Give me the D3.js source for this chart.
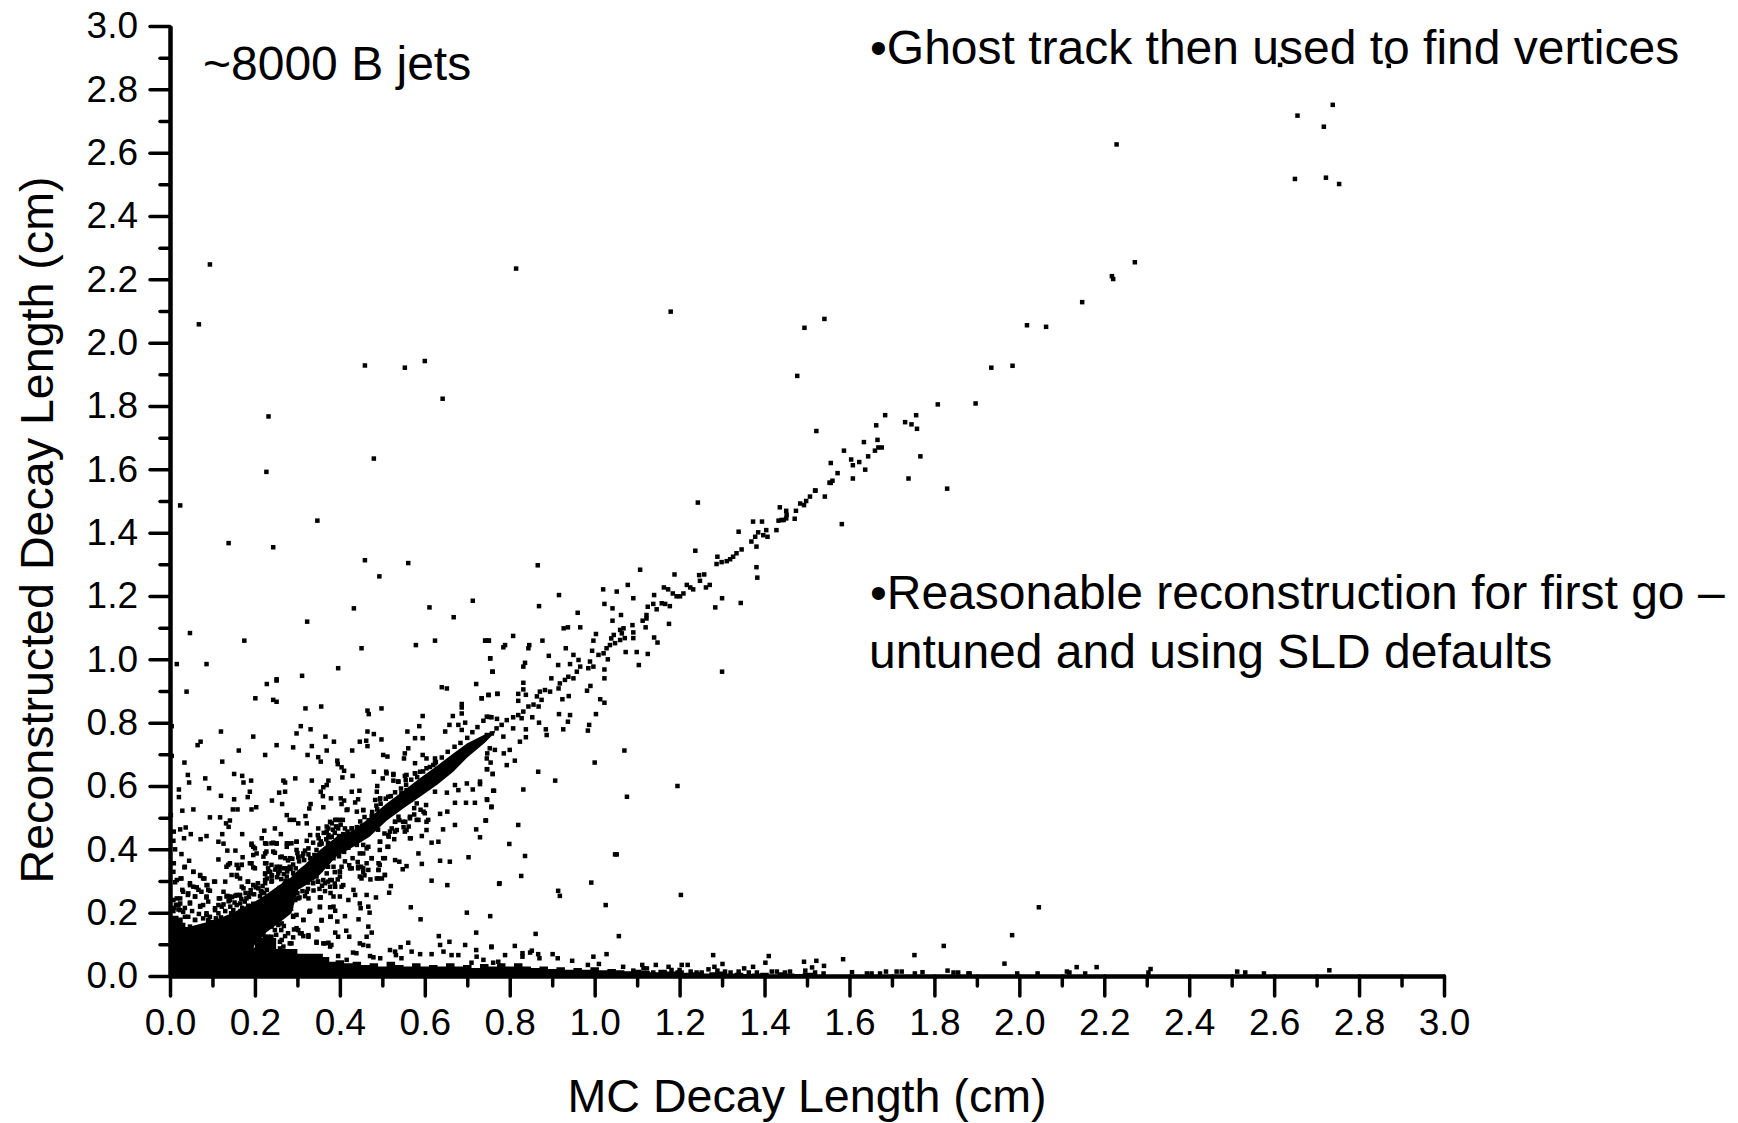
<!DOCTYPE html>
<html>
<head>
<meta charset="utf-8">
<title>Decay length</title>
<script src="https://cdn.jsdelivr.net/npm/d3@7"></script>
<style>
  html, body { margin: 0; background: #fff; }
  svg { display: block; font-family: "Liberation Sans", Arial, sans-serif; fill: #000; }
</style>
</head>
<body>
<div id="chart"></div>
<script>
// all values in cm, [mc, reconstructed]
const farScatter = [[.094,2.247],[.815,2.234],[.068,2.058],[1.179,2.098],[.459,1.928],[.553,1.921],[.600,1.942],[.642,1.823],[.232,1.767],[.480,1.634],[.227,1.592],[.024,1.486],[.347,1.438],[.138,1.367],[.243,1.354],[.459,1.313],[.561,1.304],[.493,1.262],[.713,1.185],[.433,1.161],[.611,1.164],[.668,1.133],[.323,1.119],[.047,1.083],[.175,1.059],[.451,1.035],[.579,1.045],[.624,1.059],[.743,1.059],[.751,1.059],[1.243,1.495],[1.300,.961],[.251,.937],[1.477,1.895],[1.494,2.047],[1.541,2.075],[1.522,1.721],[1.582,1.427]];

const tailPoints = [[2.614,2.877],[2.870,2.874],[2.738,2.751],[2.655,2.717],[2.717,2.682],[2.229,2.626],[2.649,2.517],[2.722,2.521],[2.753,2.501],[2.272,2.254],[2.218,2.210],[2.221,2.201],[2.148,2.128],[2.018,2.055],[2.063,2.050],[1.934,1.921],[1.984,1.927],[1.808,1.805],[1.897,1.808],[1.684,1.771],[1.663,1.739],[1.757,1.771],[1.731,1.749],[1.746,1.742],[1.759,1.728],[1.666,1.693],[1.634,1.686],[1.587,1.659],[1.676,1.669],[1.668,1.669],[1.660,1.659],[1.644,1.641],[1.604,1.631],[1.623,1.623],[1.608,1.613],[1.637,1.599],[1.556,1.620],[1.572,1.588],[1.560,1.564],[1.556,1.557],[1.608,1.571],[1.520,1.533],[1.507,1.514],[1.498,1.500],[1.493,1.487],[1.484,1.492],[1.474,1.469],[1.542,1.514],[1.471,1.444],[1.451,1.469],[1.451,1.445],[1.440,1.440],[1.436,1.480],[1.767,1.641],[1.739,1.571],[1.830,1.539],[1.519,1.533],[1.553,1.558],[1.452,1.456],[1.433,1.438],[1.445,1.440]];

const diagonalChain = [[.734,.745],[.746,.761],[.758,.766],[.769,.782],[.781,.793],[.793,.808],[.808,.817],[.820,.824],[.832,.835],[.828,.814],[.844,.851],[.856,.857],[.868,.851],[.875,.872],[.864,.883],[.871,.898],[.883,.903],[.895,.898],[.915,.908],[.918,.924],[.930,.935],[.938,.945],[.950,.940],[.958,.961],[.966,.977],[.962,.998],[.950,1.014],[.985,.972],[.997,.977],[.989,.993],[1.009,1.014],[1.021,1.019],[1.028,1.035],[1.036,1.045],[1.048,1.051],[1.060,1.061],[1.071,1.067],[1.064,1.082],[1.068,1.098],[1.060,1.093],[1.045,1.077],[1.039,1.066],[1.091,1.067],[1.091,1.085],[1.089,1.108],[1.113,1.122],[1.122,1.129],[1.122,1.140],[1.146,1.158],[1.158,1.177],[1.166,1.175],[1.177,1.168],[1.138,1.175],[1.125,1.166],[1.163,1.227],[1.173,1.221],[1.184,1.208],[1.193,1.199],[1.201,1.199],[1.209,1.208],[1.217,1.235],[1.225,1.227],[1.232,1.221],[1.248,1.248],[1.262,1.227],[1.271,1.235],[1.246,1.266],[1.258,1.268],[1.188,1.268],[1.107,1.283],[1.237,1.343],[1.289,1.324],[1.287,1.301],[1.299,1.307],[1.311,1.310],[1.319,1.316],[1.326,1.324],[1.334,1.335],[1.346,1.347],[1.381,1.356],[1.369,1.372],[1.378,1.387],[1.385,1.401],[1.397,1.392],[1.407,1.387],[1.339,1.403],[1.373,1.435],[1.394,1.435],[1.404,1.408],[1.428,1.408],[1.381,1.291],[1.383,1.258],[1.300,1.193],[1.284,1.164],[1.344,1.178]];

const midScatter = [[.866,1.297],[.916,1.203],[.869,1.168],[.960,1.147],[1.020,1.221],[1.052,1.214],[1.078,1.235],[1.091,1.193],[1.023,1.175],[1.042,1.161],[1.062,1.140],[1.042,1.122],[1.140,1.203],[1.120,1.101],[1.175,1.112],[1.140,1.069],[1.148,1.053],[1.125,1.017],[1.099,1.023],[1.073,1.023],[1.104,.982],[1.031,1.000],[1.023,.968],[1.023,.940],[1.003,1.080],[.997,1.059],[.994,1.027],[.966,1.101],[.937,1.101],[.927,1.098],[.932,1.035],[.892,1.011],[.877,1.059],[.844,1.035],[.846,1.045],[.808,1.074],[.789,1.045],[.785,1.038],[.742,1.059],[.750,1.059],[.754,1.003],[.759,.961],[.836,.989],[.832,.977],[.914,.982],[.942,.985],[.832,.926],[.832,.905],[.820,.891],[.838,.888],[.771,.891],[.750,.888],[.734,.877],[.820,.869],[.898,.940],[.982,.901],[.990,.916],[.939,.884],[.924,.874],[1.013,.874],[1.023,.863],[1.003,.827],[.942,.824],[.916,.827],[.853,.817],[.869,.800],[.937,.803],[.885,.779],[.926,.779],[.887,.761],[.987,.793],[.984,.775],[.838,.779],[.838,.754],[.824,.740],[.800,.714],[.785,.756],[.808,.782],[.786,.703],[.765,.714],[.753,.719],[.747,.703],[.746,.687],[.812,.680],[.793,.666],[.755,.674],[.746,.653],[.760,.638],[.867,.645],[.907,.617],[1.000,.674],[1.070,.712],[.832,.589],[.761,.585],[.746,.558],[.757,.533],[.743,.491],[.820,.477],[1.076,.566],[1.195,.600],[.730,.614],[.799,.417],[.836,.379],[1.048,.384],[1.052,.384],[.827,.316],[.776,.293],[.992,.295],[.914,.269],[.918,.253],[1.026,.224],[1.203,.256],[.754,.189],[1.057,.126],[.861,.133],[2.046,.217],[1.983,.129]];

const upperCloud = [[.016,.985],[.086,.985],[.396,.972],[.754,1.003],[.760,.961],[.311,.948],[.228,.922],[.251,.933],[.721,.922],[.640,.912],[.652,.908],[.039,.898],[.201,.877],[.243,.872],[.251,.866],[.734,.877],[.750,.887],[.771,.891],[.687,.859],[.687,.848],[.319,.845],[.356,.851],[.498,.845],[.465,.838],[.468,.827],[.687,.829],[.595,.821],[.666,.821],[.746,.819],[.757,.817],[.695,.800],[.658,.793],[.587,.789],[.004,.789],[.679,.793],[.687,.777],[.308,.789],[.331,.779],[.298,.766],[.120,.772],[.465,.772],[.480,.764],[.559,.772],[.648,.772],[.196,.756],[.366,.756],[.577,.751],[.595,.751],[.498,.747],[.462,.743],[.447,.740],[.386,.740],[.072,.740],[.065,.729],[.251,.729],[.465,.726],[.290,.722],[.334,.726],[.162,.712],[.429,.712],[.369,.712],[.561,.719],[.553,.703],[.502,.698],[.512,.693],[.224,.698],[.324,.698],[.004,.695],[.349,.691],[.355,.677],[.551,.687],[.595,.698],[.604,.687],[.624,.687],[.123,.677],[.034,.674],[.394,.680],[.395,.669],[.577,.672],[.620,.666],[.404,.659],[.410,.648],[.480,.645],[.509,.645],[.526,.638],[.042,.635],[.151,.638],[.170,.632],[.083,.624],[.191,.617],[.173,.611],[.045,.611],[.267,.617],[.295,.624],[.334,.617],[.373,.617],[.406,.627],[.430,.632],[.501,.624],[.553,.632],[.555,.619],[.577,.640],[.526,.617],[.537,.614],[.092,.593],[.021,.589],[.188,.582],[.271,.611],[.271,.582],[.257,.579],[.369,.603],[.361,.596],[.355,.582],[.360,.568],[.488,.600],[.428,.582],[.446,.585],[.487,.582],[.120,.569],[.021,.565],[.183,.565],[.151,.558],[.240,.554],[.264,.543],[.379,.561],[.402,.561],[.404,.543],[.410,.554],[.436,.548],[.443,.558],[.494,.558],[.331,.543],[.328,.529],[.361,.533],[.203,.533],[.192,.526],[.148,.526],[.159,.526],[.029,.522],[.055,.526],[.418,.526],[.455,.524],[.002,.508],[.275,.508],[.319,.505],[.094,.501],[.118,.501],[.141,.491],[.132,.482],[.138,.471],[.282,.493],[.292,.493],[.302,.482],[.322,.482],[.349,.466],[.369,.472],[.381,.482],[.393,.493],[.407,.493],[.391,.472],[.247,.466],[.222,.459],[.037,.469],[.024,.463],[.009,.456],[.049,.448],[.033,.435],[.008,.427],[.072,.432],[.086,.442],[.123,.448],[.170,.448],[.261,.448],[.216,.435],[.330,.445],[.348,.445],[.369,.456],[.373,.445],[.428,.466],[.114,.424],[.126,.418],[.192,.418],[.227,.418],[.243,.421],[.251,.418],[.278,.418],[.298,.424],[.322,.427],[.337,.421],[.357,.418],[.196,.408],[.012,.400],[.135,.396],[.154,.396],[.204,.387],[.227,.393],[.275,.408],[.298,.398],[.345,.398],[.027,.385],[.171,.375],[.220,.377],[.247,.389],[.260,.375],[.271,.372],[.302,.375],[.314,.387],[.045,.364],[.114,.368],[.009,.356],[.141,.356],[.169,.351],[.188,.356],[.227,.356],[.133,.345],[.161,.340],[.196,.343],[.231,.340],[.251,.345],[.267,.340],[.282,.345],[.034,.343],[.008,.329],[.055,.329],[.071,.316],[.145,.319],[.158,.314],[.224,.303],[.239,.314],[.255,.324],[.275,.314],[.236,.329],[.025,.308],[.012,.296],[.081,.308],[.104,.298],[.130,.298],[.183,.298],[.224,.293],[.047,.287],[.063,.280],[.088,.287],[.169,.282],[.196,.287],[.208,.277],[.029,.272],[.074,.266],[.094,.269],[.042,.256],[.059,.251],[.086,.248],[.133,.251],[.153,.253],[.165,.256],[.188,.261],[.016,.245],[.115,.245],[.141,.240],[.180,.245],[.047,.232],[.024,.229],[.071,.221],[.078,.224],[.106,.214],[.122,.219],[.157,.224],[.031,.203],[.086,.198],[.094,.187],[.114,.198],[.043,.187],[.059,.177],[.031,.161],[.047,.156],[.090,.172]];

const lowerCloud = [[.775,.291],[.653,.287],[.616,.301],[.520,.284],[.516,.263],[.485,.248],[.703,.375],[.659,.361],[.636,.364],[.593,.354],[.585,.387],[.616,.421],[.632,.424],[.730,.438],[.721,.463],[.671,.477],[.744,.491],[.643,.463],[.593,.442],[.567,.435],[.553,.456],[.604,.461],[.636,.512],[.653,.519],[.600,.514],[.608,.493],[.565,.503],[.581,.493],[.549,.487],[.530,.487],[.518,.456],[.530,.456],[.671,.547],[.697,.547],[.718,.547],[.757,.535],[.747,.556],[.763,.585],[.713,.589],[.699,.608],[.730,.606],[.760,.638],[.747,.653],[.671,.603],[.679,.587],[.652,.579],[.624,.582],[.603,.540],[.581,.545],[.567,.556],[.494,.424],[.512,.408],[.494,.398],[.506,.372],[.530,.366],[.540,.361],[.557,.347],[.548,.337],[.494,.351],[.491,.335],[.506,.319],[.499,.308],[.487,.308],[.475,.372],[.463,.403],[.440,.414],[.455,.387],[.463,.356],[.443,.340],[.455,.329],[.467,.335],[.447,.314],[.424,.340],[.404,.345],[.385,.345],[.369,.324],[.381,.303],[.400,.314],[.361,.303],[.345,.314],[.337,.293],[.377,.282],[.408,.287],[.432,.272],[.463,.256],[.447,.229],[.449,.214],[.467,.219],[.470,.200],[.436,.256],[.420,.240],[.400,.251],[.385,.251],[.355,.248],[.353,.219],[.385,.219],[.389,.206],[.328,.203],[.412,.189],[.444,.179],[.378,.187],[.357,.175],[.394,.172],[.314,.177],[.298,.193],[.467,.156],[.475,.137],[.463,.124],[.422,.124],[.415,.143],[.396,.124],[.389,.137],[.347,.147],[.314,.126],[.326,.124],[.292,.147],[.302,.145],[.306,.135],[.271,.126],[.259,.108],[.235,.166],[.255,.161],[.220,.135],[.231,.124],[.247,.145],[.282,.103],[.267,.093],[.345,.105],[.361,.103],[.373,.105],[.380,.098],[.447,.103],[.455,.098],[.467,.095],[.431,.074],[.439,.072],[.471,.063],[.479,.059],[.518,.082],[.530,.077],[.543,.091],[.561,.105],[.532,.066],[.545,.056],[.569,.077],[.589,.069],[.616,.069],[.633,.126],[.636,.098],[.658,.108],[.695,.098],[.644,.077],[.663,.066],[.679,.066],[.721,.137],[.721,.082],[.722,.061],[.757,.093],[.699,.200],[.590,.179],[.567,.217],[.773,.045],[.761,.042],[.710,.042],[.738,.051],[.495,.056],[.396,.063],[.416,.051]];

const floorScatter = [[.757,.091],[.812,.095],[.789,.066],[.830,.072],[.830,.061],[.848,.074],[.852,.080],[.867,.069],[.870,.056],[.901,.069],[.913,.056],[.947,.048],[.997,.061],[1.028,.069],[1.010,.038],[.984,.035],[1.067,.029],[1.112,.035],[1.144,.035],[1.174,.029],[1.205,.035],[1.219,.035],[1.279,.066],[1.301,.038],[1.282,.029],[1.352,.024],[1.373,.029],[1.402,.042],[1.410,.063],[1.493,.045],[1.496,.017],[1.512,.027],[1.522,.048],[1.540,.032],[1.585,.053],[1.753,.066],[1.822,.095],[1.831,.017],[1.772,.012],[1.606,.012],[1.641,.008],[1.652,.008],[1.686,.014],[1.672,.008],[1.711,.014],[1.723,.014],[1.754,.008],[1.845,.011],[1.856,.011],[1.883,.008],[1.417,.014],[1.429,.014],[1.448,.011],[1.460,.014],[1.519,.011],[1.539,.008],[1.307,.014],[1.320,.011],[1.339,.014],[1.363,.011],[1.382,.011],[1.226,.014],[1.240,.011],[1.252,.011],[1.268,.021],[1.289,.017],[1.091,.017],[1.115,.024],[1.123,.024],[1.138,.011],[1.162,.011],[1.181,.019],[1.200,.019],[1.965,.039],[2.135,.028],[2.182,.028],[2.112,.014],[2.118,.011],[2.155,.008],[2.309,.022],[2.304,.011],[2.513,.014],[2.532,.011],[2.576,.008],[2.730,.018],[1.995,.008],[2.043,.008],[1.880,.008]];

// clumps hugging the core of the diagonal, read in patches
const fringeAbove = [[.135,.253],[.146,.249],[.158,.255],[.168,.243],[.138,.236],[.152,.232],[.165,.229],[.176,.235],[.126,.226],[.142,.219],[.170,.215],[.149,.208],[.184,.222],[.196,.228],[.178,.262],[.190,.271],[.202,.280],[.214,.268],[.198,.258],[.212,.252],[.222,.262],[.207,.293],[.186,.250],[.228,.272],[.218,.284],[.232,.330],[.240,.318],[.224,.322],[.248,.336],[.258,.332],[.268,.322],[.252,.312],[.262,.306],[.276,.330],[.284,.338],[.240,.300],[.228,.308],[.272,.300],[.290,.325],[.296,.340],[.300,.388],[.312,.378],[.318,.396],[.326,.384],[.304,.362],[.316,.366],[.330,.372],[.290,.352],[.278,.365],[.340,.382],[.345,.376],[.288,.370],[.355,.425],[.368,.432],[.352,.415],[.376,.438],[.388,.452],[.396,.466],[.402,.478],[.412,.466],[.384,.462],[.372,.420],[.398,.442],[.408,.448],[.418,.456],[.362,.452],[.350,.435],[.448,.488],[.458,.502],[.468,.492],[.476,.518],[.488,.526],[.452,.474],[.462,.478],[.475,.505],[.440,.470],[.486,.538],[.496,.544],[.508,.560],[.520,.568],[.530,.580],[.544,.592],[.556,.604],[.568,.620],[.582,.628],[.596,.646],[.612,.660],[.626,.676],[.640,.690],[.654,.708],[.670,.724],[.684,.736],[.700,.752],[.712,.770],[.724,.786],[.738,.806],[.752,.818],[.770,.812],[.166,.205],[.176,.200],[.188,.210],[.200,.218],[.212,.225],[.224,.240],[.236,.250],[.246,.262],[.258,.278],[.270,.290],[.282,.300],[.292,.312],[.304,.322],[.316,.336],[.328,.350]];

const fringeBelow = [[.275,.262],[.288,.255],[.300,.262],[.312,.268],[.325,.275],[.270,.240],[.282,.232],[.295,.240],[.305,.248],[.318,.252],[.262,.212],[.272,.205],[.285,.212],[.290,.190],[.250,.195],[.240,.208],[.232,.190],[.224,.172],[.262,.190],[.216,.160],[.335,.308],[.348,.298],[.358,.285],[.372,.298],[.388,.292],[.395,.305],[.352,.275],[.365,.268],[.378,.262],[.340,.330],[.355,.335],[.372,.345],[.388,.328],[.400,.330],[.325,.295],[.338,.270],[.412,.362],[.422,.350],[.430,.372],[.442,.360],[.450,.345],[.458,.318],[.472,.305],[.478,.470],[.490,.462],[.505,.450],[.515,.440],[.528,.432],[.540,.492],[.550,.470],[.562,.472],[.575,.510],[.590,.525],[.575,.530],[.430,.420],[.440,.432],[.452,.440],[.462,.448],[.420,.405],[.410,.392],[.398,.378],[.385,.372],[.372,.362],[.360,.352],[.348,.345],[.215,.145],[.225,.155],[.212,.128],[.228,.118],[.240,.112],[.205,.110],[.250,.130],[.262,.145],[.268,.158],[.278,.135],[.290,.122],[.220,.180],[.263,.166],[.239,.156],[.216,.129],[.224,.124],[.239,.124],[.263,.114],[.286,.103],[.259,.087],[.267,.077],[.298,.151],[.310,.135],[.326,.129],[.345,.151],[.345,.108],[.365,.103],[.377,.093],[.357,.177],[.378,.187],[.353,.217],[.377,.217],[.353,.248],[.330,.206],[.290,.187],[.314,.177],[.283,.224],[.302,.245],[.326,.245],[.322,.266],[.349,.298],[.365,.293]];

const cornerFringe = [[.008,.240],[.014,.225],[.020,.210],[.010,.215],[.008,.205],[.035,.215],[.052,.205],[.068,.196],[.078,.182],[.100,.170],[.108,.182],[.120,.185],[.130,.205],[.144,.198],[.155,.190],[.192,.414],[.200,.403],[.196,.382],[.224,.387],[.243,.393],[.263,.377],[.283,.372],[.224,.419],[.239,.419],[.251,.419],[.275,.419],[.286,.419],[.298,.424],[.326,.403],[.192,.356],[.200,.340],[.224,.356],[.239,.351],[.259,.345],[.275,.340],[.224,.324],[.157,.351],[.169,.351],[.157,.319],[.165,.308],[.137,.351],[.184,.298],[.173,.277],[.196,.287],[.216,.266],[.239,.298],[.126,.266],[.141,.251],[.157,.256],[.118,.245],[.086,.287],[.106,.298],[.071,.319],[.078,.308],[.055,.329],[.035,.345],[.016,.303],[.027,.308],[.047,.293],[.055,.282],[.067,.272],[.090,.272],[.031,.266],[.043,.261],[.059,.251],[.086,.251],[.024,.245],[.047,.229],[.071,.219],[.090,.235],[.114,.224],[.020,.224],[.024,.208],[.106,.208],[.086,.193],[.035,.187],[.059,.177],[.090,.177]];

const bandPatches = [[.510,.640],[.526,.635],[.538,.614],[.557,.635],[.577,.640],[.589,.645],[.604,.656],[.624,.672],[.557,.587],[.545,.577],[.514,.566],[.495,.561],[.483,.556],[.455,.524],[.440,.519],[.416,.524],[.400,.493],[.389,.493],[.377,.487],[.373,.466],[.392,.472],[.428,.466],[.400,.440],[.381,.440],[.597,.519],[.604,.487],[.585,.493],[.565,.498],[.554,.487],[.538,.503],[.530,.487],[.522,.466],[.514,.445],[.534,.461],[.557,.461],[.565,.435],[.495,.424],[.514,.408],[.467,.408],[.455,.414],[.447,.387],[.475,.372],[.502,.372],[.491,.356],[.491,.335],[.506,.319],[.491,.308],[.455,.340],[.443,.345],[.451,.308],[.428,.340],[.400,.329],[.377,.303],[.389,.282],[.404,.282]];

// where the markers pile up into solid black, only the outline can be read
const diagonalX = [.03,.106,.141,.169,.2,.224,.255,.286,.302,.318,.353,.392,.432,.47,.51,.55,.589,.63,.667,.70,.74,.765];
const diagonalUpper = [.15,.177,.196,.214,.235,.255,.285,.313,.335,.352,.398,.44,.46,.50,.545,.585,.625,.665,.703,.735,.762,.775];
const diagonalLower = [0,0,0,0,.1,.135,.166,.198,.272,.285,.32,.377,.408,.44,.49,.53,.566,.605,.645,.69,.735,.768];

const floorX = [0,.05,.1,.15,.2,.25,.3,.33,.36,.375,.39,.41,.43,.45,.47,.49,.51,.53,.55,.57,.59,.61,.63,.65,.67,.69,.71,.73,.75,.77,.79,.81,.83,.85,.87,.89,.91,.93,.95,.97,.99,1.01,1.03,1.05,1.07,1.09,1.11,1.13,1.15,1.17,1.19,1.21,1.23,1.25,1.27,1.29,1.31,1.33,1.35,1.37,1.39,1.41,1.43,1.45,1.47,1.49,1.52];
const floorTop = [.1,.1,.09,.09,.12,.085,.07,.07,.06,.045,.05,.04,.045,.035,.04,.03,.045,.035,.03,.04,.03,.035,.03,.04,.03,.035,.025,.038,.03,.04,.03,.04,.03,.025,.03,.022,.028,.02,.025,.02,.028,.018,.022,.018,.015,.02,.016,.012,.02,.014,.018,.01,.012,.008,.012,.014,.008,.01,.006,.008,.01,.004,.012,.008,.006,.01,.004];

const cornerX = [0,.02,.03,.07,.09,.11];
const cornerTop = [.19,.185,.155,.16,.165,.175];

const majorTicks = [0,.2,.4,.6,.8,1,1.2,1.4,1.6,1.8,2,2.2,2.4,2.6,2.8,3];
const minorTicks = [.1,.3,.5,.7,.9,1.1,1.3,1.5,1.7,1.9,2.1,2.3,2.5,2.7,2.9];

const notes = [
  { text: '~8000 B jets', x: 203, y: 80 },
  { text: '•Ghost track then used to find vertices', x: 870, y: 64 },
  { text: '•Reasonable reconstruction for first go –', x: 870, y: 609 },
  { text: 'untuned and using SLD defaults', x: 869, y: 668 }
];

const margin = { top: 26, right: 294, bottom: 147, left: 170 };
const width = 1738 - margin.left - margin.right;
const height = 1123 - margin.top - margin.bottom;
const markerSize = 4.5;

const root = d3.select('#chart')
               .append('svg')
               .attr('width', 1738)
               .attr('height', 1123);

const svg = root.append('g')
                .attr('transform', `translate(${margin.left}, ${margin.top})`);

const xScale = d3.scaleLinear().domain([0, 3]).range([0, width]);
const yScale = d3.scaleLinear().domain([0, 3]).range([height, 0]);

// solid parts
function solid(xs, tops, bottoms, curve) {
  const rows = xs.map((x, i) => [x, tops[i], bottoms ? bottoms[i] : 0]);
  const area = d3.area()
                 .x(d => xScale(d[0]))
                 .y0(d => yScale(d[2]))
                 .y1(d => yScale(d[1]))
                 .curve(curve);
  svg.append('path').attr('d', area(rows)).attr('fill', '#000');
}

solid(diagonalX, diagonalUpper, diagonalLower, d3.curveLinear);
solid(floorX, floorTop, null, d3.curveStepAfter);
solid(cornerX, cornerTop, null, d3.curveStepAfter);

// single markers
const allPoints = [].concat(farScatter, tailPoints, diagonalChain, midScatter, upperCloud, lowerCloud, floorScatter, fringeAbove, fringeBelow, cornerFringe, bandPatches);

svg.selectAll('.pt')
   .data(allPoints)
   .enter()
   .append('rect')
   .attr('class', 'pt')
   .attr('x', d => xScale(d[0]) - markerSize / 2)
   .attr('y', d => yScale(d[1]) - markerSize / 2)
   .attr('width', markerSize)
   .attr('height', markerSize)
   .attr('fill', '#000');

// axes
function styleAxis(g) {
  g.selectAll('.domain').attr('stroke', '#000').attr('stroke-width', 4);
  g.selectAll('.tick line').attr('stroke', '#000').attr('stroke-width', 3.5).attr('stroke-linecap', 'round');
  g.selectAll('.tick text').attr('fill', '#000').style('font-size', '37px').style('font-family', '"Liberation Sans", Arial, sans-serif');
}

svg.append('g')
   .attr('transform', `translate(0, ${height})`)
   .call(d3.axisBottom(xScale).tickValues(minorTicks).tickSize(10).tickSizeOuter(0).tickFormat(''))
   .call(styleAxis);

svg.append('g')
   .attr('transform', `translate(0, ${height})`)
   .call(d3.axisBottom(xScale).tickValues(majorTicks).tickSize(20).tickSizeOuter(0).tickPadding(13).tickFormat(d3.format('.1f')))
   .call(styleAxis);

svg.append('g')
   .call(d3.axisLeft(yScale).tickValues(minorTicks).tickSize(10).tickSizeOuter(0).tickFormat(''))
   .call(styleAxis);

svg.append('g')
   .call(d3.axisLeft(yScale).tickValues(majorTicks).tickSize(20).tickSizeOuter(0).tickPadding(12).tickFormat(d3.format('.1f')))
   .call(styleAxis);

// titles and slide notes
root.append('text')
    .attr('x', 807)
    .attr('y', 1112)
    .attr('text-anchor', 'middle')
    .style('font-size', '46.6px')
    .text('MC Decay Length (cm)');

root.append('text')
    .attr('transform', 'translate(53, 530) rotate(-90)')
    .attr('text-anchor', 'middle')
    .style('font-size', '46.6px')
    .text('Reconstructed Decay Length (cm)');

root.selectAll('.note')
    .data(notes)
    .enter()
    .append('text')
    .attr('class', 'note')
    .attr('x', d => d.x)
    .attr('y', d => d.y)
    .style('font-size', '48px')
    .text(d => d.text);
</script>
</body>
</html>
